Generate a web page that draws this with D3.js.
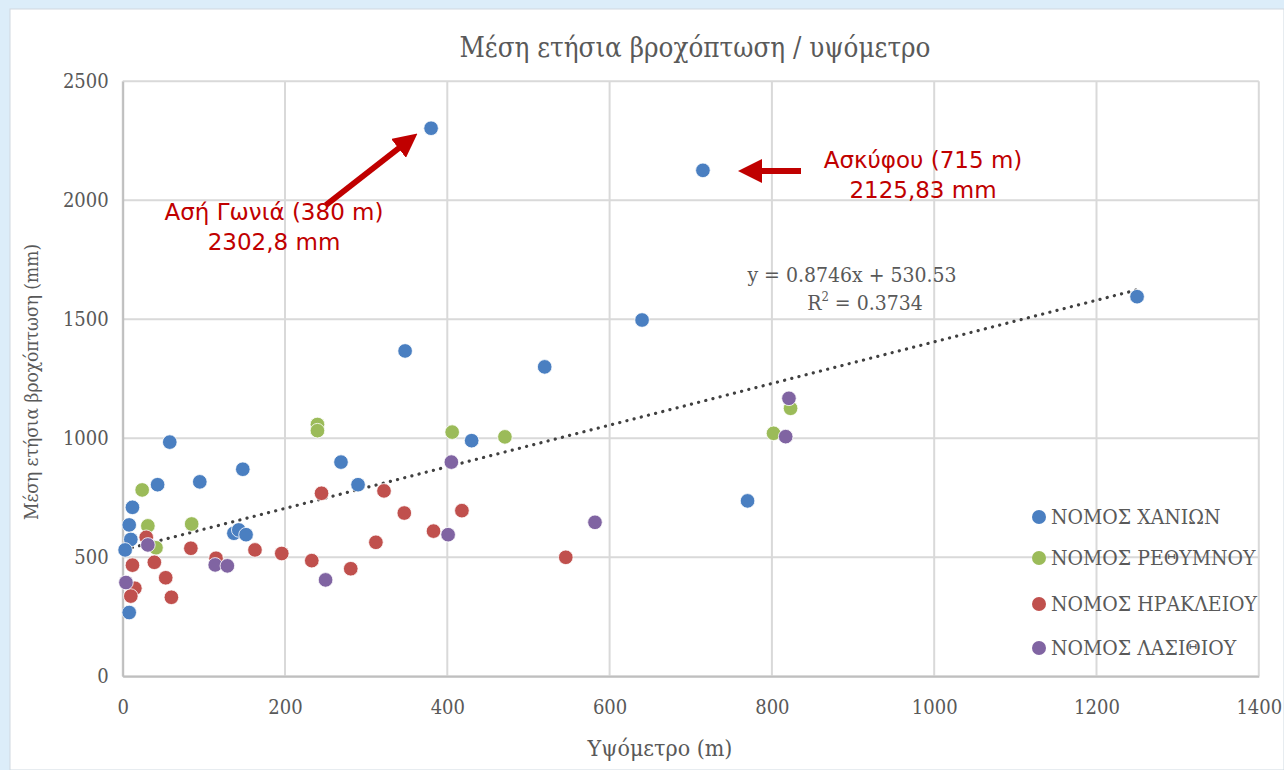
<!DOCTYPE html>
<html>
<head>
<meta charset="utf-8">
<style>
body { margin: 0; background: #dcedf9; }
svg { display: block; }
</style>
</head>
<body>
<svg></svg>
<script src="https://cdn.jsdelivr.net/npm/d3@7/dist/d3.min.js"></script>
<script>
// [elevation m, mean annual rainfall mm]
var chania = [[380,2302.8],[715,2125.83],[1250,1595],[640,1497],[520,1300],[348,1367],
  [430,990],[269,900],[290,805],[148,870],[95,817],[58,984],[43,805],[12,710],[8,636],
  [10,575],[3,531],[8,268],[770,737],[137,601],[143,615],[152,595]];
var rethymno = [[24,783],[31,632],[41,540],[85,640],[240,1058],[240,1032],[406,1026],
  [471,1006],[802,1021],[823,1126]];
var heraklion = [[29,584],[84,538],[12,467],[39,479],[53,414],[15,370],[10,337],[60,332],
  [115,496],[163,531],[196,516],[233,486],[281,452],[312,563],[245,769],[322,779],
  [347,686],[383,610],[418,696],[546,500]];
var lasithi = [[31,552],[4,394],[114,468],[129,464],[250,405],[405,900],[401,595],
  [582,647],[821,1168],[817,1007]];

var seriesNames = ["ΝΟΜΟΣ ΧΑΝΙΩΝ", "ΝΟΜΟΣ ΡΕΘΥΜΝΟΥ", "ΝΟΜΟΣ ΗΡΑΚΛΕΙΟΥ", "ΝΟΜΟΣ ΛΑΣΙΘΙΟΥ"];
var seriesColors = ["#4a7fc1", "#9bbb59", "#c0504d", "#8064a2"];
var xTicks = [0, 200, 400, 600, 800, 1000, 1200, 1400];
var yTicks = [0, 500, 1000, 1500, 2000, 2500];
var trend = { slope: 0.8746, intercept: 530.53, r2: 0.3734 };

var W = 1284, H = 770;
var svg = d3.select("svg").attr("width", W).attr("height", H);

svg.append("rect").attr("x", 10).attr("y", 9).attr("width", W - 10).attr("height", H - 9)
    .attr("fill", "#fff").attr("stroke", "#cfd8e0");

var x = d3.scaleLinear().domain([0, 1400]).range([122.7, 1258.8]);
var y = d3.scaleLinear().domain([0, 2500]).range([676.3, 81.3]);

var serif = "'DejaVu Serif', serif";
var grey = "#595959";

// gridlines
var grid = svg.append("g");
grid.selectAll(".gy").data(yTicks).enter().append("line")
    .attr("x1", x(0)).attr("x2", x(1400))
    .attr("y1", d => y(d)).attr("y2", d => y(d))
    .attr("stroke", "#d9d9d9").attr("stroke-width", 2);
grid.selectAll(".gx").data(xTicks).enter().append("line")
    .attr("y1", y(0)).attr("y2", y(2500))
    .attr("x1", d => x(d)).attr("x2", d => x(d))
    .attr("stroke", "#d9d9d9").attr("stroke-width", 2);

// axes
var xAxis = svg.append("g").attr("transform", "translate(0," + y(0) + ")")
    .call(d3.axisBottom(x).tickValues(xTicks).tickFormat(d3.format("d")).tickSize(0).tickPadding(24));
var yAxis = svg.append("g").attr("transform", "translate(" + x(0) + ",0)")
    .call(d3.axisLeft(y).tickValues(yTicks).tickFormat(d3.format("d")).tickSize(0).tickPadding(14));
[xAxis, yAxis].forEach(function(a) {
  a.select(".domain").attr("stroke", "#bfbfbf").attr("stroke-width", 2);
  a.selectAll("text").attr("font-family", serif).attr("font-stretch", "condensed")
      .attr("font-size", 20).attr("fill", grey);
});

// trendline
svg.append("line")
    .attr("x1", x(3)).attr("y1", y(trend.slope * 3 + trend.intercept))
    .attr("x2", x(1250)).attr("y2", y(trend.slope * 1250 + trend.intercept))
    .attr("stroke", "#404040").attr("stroke-width", 3.2)
    .attr("stroke-dasharray", "0.1 7.3").attr("stroke-linecap", "round");

// points
var allSeries = [chania, rethymno, heraklion, lasithi];
allSeries.forEach(function(data, i) {
  svg.append("g").selectAll("circle").data(data).enter().append("circle")
      .attr("cx", d => x(d[0])).attr("cy", d => y(d[1])).attr("r", 7.3)
      .attr("fill", seriesColors[i]).attr("stroke", "#fff").attr("stroke-width", 0.8);
});

// equation
var eq = svg.append("text").attr("font-family", serif).attr("font-size", 21).attr("fill", grey)
    .attr("font-stretch", "condensed").attr("text-anchor", "middle");
eq.append("tspan").attr("x", 852).attr("y", 282)
    .text("y = " + trend.slope + "x + " + trend.intercept);
var r2 = eq.append("tspan").attr("x", 865).attr("y", 310);
r2.append("tspan").text("R");
r2.append("tspan").attr("dy", -9).attr("font-size", 13).text("2");
r2.append("tspan").attr("dy", 9).text(" = " + trend.r2);

// title
svg.append("text").attr("x", 695).attr("y", 57).attr("text-anchor", "middle")
    .attr("font-family", serif).attr("font-stretch", "condensed").attr("font-size", 27.5).attr("fill", grey)
    .text("Μέση ετήσια  βροχόπτωση / υψόμετρο");

// axis titles
svg.append("text").attr("x", 660).attr("y", 756).attr("text-anchor", "middle")
    .attr("font-family", serif).attr("font-stretch", "condensed").attr("font-size", 23).attr("fill", grey)
    .text("Υψόμετρο (m)");
svg.append("text").attr("transform", "translate(38,382) rotate(-90)").attr("text-anchor", "middle")
    .attr("font-family", serif).attr("font-stretch", "condensed").attr("font-size", 19).attr("fill", grey)
    .text("Μέση ετήσια βροχόπτωση (mm)");

// legend
var legY = [517, 558, 604, 648];
var leg = svg.append("g").selectAll("g").data(seriesNames).enter().append("g")
    .attr("transform", (d, i) => "translate(1039," + legY[i] + ")");
leg.append("circle").attr("r", 7).attr("fill", (d, i) => seriesColors[i]);
leg.append("text").attr("x", 12).attr("dy", "0.35em")
    .attr("font-family", serif).attr("font-stretch", "condensed")
    .attr("font-size", 21).attr("fill", grey).text(d => d);

// annotations
var red = "#c00000";
var sans = "'DejaVu Sans', Verdana, sans-serif";
svg.append("defs").append("marker").attr("id", "ah").attr("viewBox", "0 0 10 10")
    .attr("refX", 5).attr("refY", 5).attr("markerWidth", 4).attr("markerHeight", 4)
    .attr("orient", "auto").append("path").attr("d", "M0,0L10,5L0,10z").attr("fill", red);

svg.append("line").attr("x1", 326).attr("y1", 205).attr("x2", 408).attr("y2", 141)
    .attr("stroke", red).attr("stroke-width", 6).attr("marker-end", "url(#ah)");
svg.append("line").attr("x1", 801).attr("y1", 171).attr("x2", 750).attr("y2", 171)
    .attr("stroke", red).attr("stroke-width", 6).attr("marker-end", "url(#ah)");

function note(cx, cy, lines) {
  var t = svg.append("text").attr("text-anchor", "middle").attr("font-family", sans)
      .attr("font-size", 23).attr("fill", red);
  lines.forEach(function(l, i) {
    t.append("tspan").attr("x", cx).attr("y", cy + i * 30).text(l);
  });
}
note(274, 220, ["Ασή Γωνιά (380 m)", "2302,8 mm"]);
note(923, 168, ["Ασκύφου (715 m)", "2125,83 mm"]);
</script>
</body>
</html>
